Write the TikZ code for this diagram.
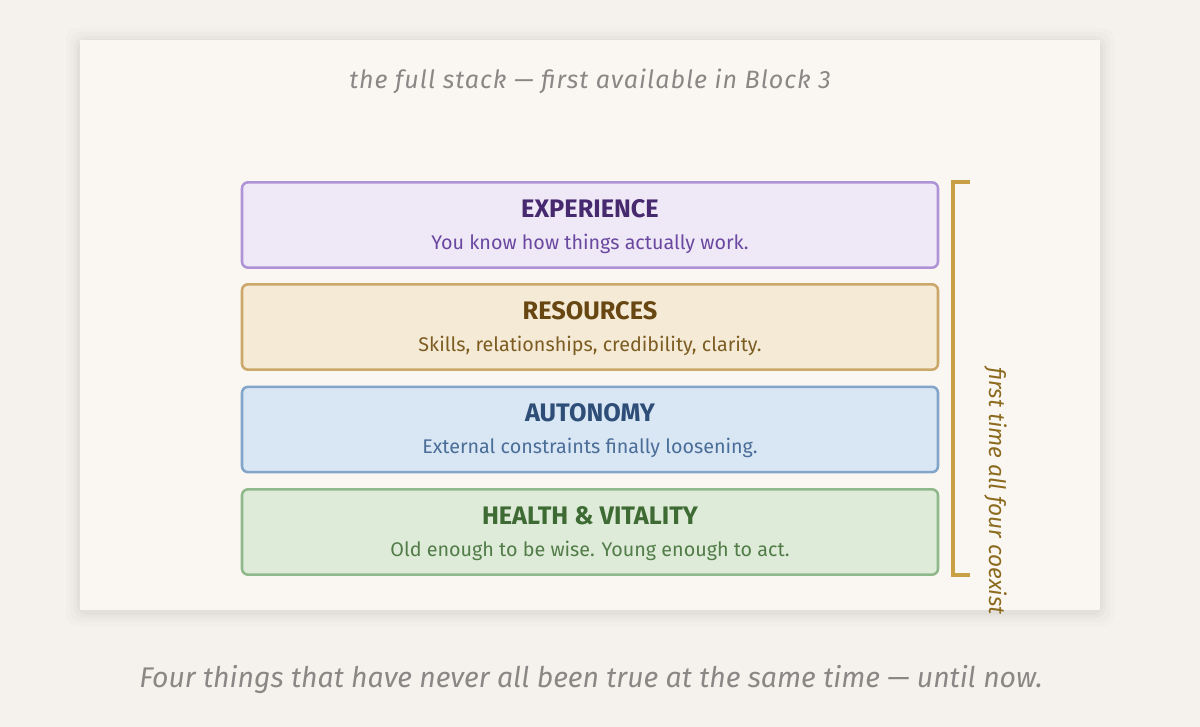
\documentclass[tikz,border=0pt]{standalone}
\usepackage{fontspec}
\setmainfont{Fira Sans}
\usepackage{xcolor}
\usetikzlibrary{positioning,calc}

\definecolor{pagebg}{HTML}{F5F2ED}
\definecolor{panelbg}{HTML}{FAF7F3}
\definecolor{capgray}{HTML}{8A8886}
\definecolor{gold}{HTML}{C9A046}
\definecolor{goldtext}{HTML}{8C6A1E}
% layer colours
\definecolor{expfill}{HTML}{EFE8F7}\definecolor{expline}{HTML}{AE94D6}
\definecolor{exptitle}{HTML}{47296F}\definecolor{expsub}{HTML}{6A48A0}
\definecolor{resfill}{HTML}{F4EAD6}\definecolor{resline}{HTML}{CBA76A}
\definecolor{restitle}{HTML}{674612}\definecolor{ressub}{HTML}{7D5C22}
\definecolor{autfill}{HTML}{D9E6F4}\definecolor{autline}{HTML}{82A5C9}
\definecolor{auttitle}{HTML}{2E4E78}\definecolor{autsub}{HTML}{4A6E98}
\definecolor{heafill}{HTML}{DDEBD8}\definecolor{healine}{HTML}{90B98B}
\definecolor{heatitle}{HTML}{3E6A33}\definecolor{heasub}{HTML}{527C48}

\newfontfamily\spacedit[LetterSpace=4]{Fira Sans Italic}

\tikzset{
  layer/.style={draw=#1line, fill=#1fill, line width=1.9pt, rounded corners=4.5pt,
    minimum width=522pt, minimum height=64pt, inner sep=0pt},
  ltitle/.style={font=\bfseries\fontsize{19}{22}\selectfont, text=#1title, inner sep=0pt},
  lsub/.style={font=\fontsize{14.8}{18}\selectfont, text=#1sub, inner sep=0pt},
  caption/.style={font=\itshape, text=capgray, inner sep=0pt}
}

\begin{document}
\begin{tikzpicture}[x=0.75pt,y=-0.75pt]
    % page and panel
    \fill[pagebg] (0,0) rectangle (1200,727);
    \foreach \s/\o in {14/0.012,10/0.015,6/0.018,3/0.022}
        \fill[black,opacity=\o,rounded corners=8pt] (80-\s,40-\s+2) rectangle (1100+\s,610+\s+2);
    \fill[panelbg] (80,40) rectangle (1100,610);
    \useasboundingbox (0,0) rectangle (1200,727);

    % top caption
    \node[caption, font=\spacedit\fontsize{18.8}{22}\selectfont] (top) at (590,81)
        {the full stack — first available in Block 3};

    % Experience
    \node[layer=exp] (exp) at (590,225) {};
    \node[ltitle=exp] (expt) at (590,209) {EXPERIENCE};
    \node[lsub=exp] (exps) at (590,243.5) {You know how things actually work.};

    % Resources
    \node[layer=res] (res) at (590,327) {};
    \node[ltitle=res] (rest) at (590,311) {RESOURCES};
    \node[lsub=res] (ress) at (590,345.5) {Skills, relationships, credibility, clarity.};

    % Autonomy
    \node[layer=aut] (aut) at (590,429.5) {};
    \node[ltitle=aut] (autt) at (590,413) {AUTONOMY};
    \node[lsub=aut] (auts) at (590,447.5) {External constraints finally loosening.};

    % Health & Vitality
    \node[layer=hea] (hea) at (590,532) {};
    \node[ltitle=hea] (heat) at (590,516) {HEALTH \& VITALITY};
    \node[lsub=hea] (heas) at (590,550.5) {Old enough to be wise. Young enough to act.};

    % bracket
    \coordinate (brtop) at (970,182);
    \coordinate (brbot) at (970,575);
    \draw[gold, line width=2.3pt] (brtop) -- ++(-17,0) |- (brbot);
    \node[font=\itshape\fontsize{17}{20}\selectfont, text=goldtext, rotate=-90, inner sep=0pt]
        (coex) at (996,491) {first time all four coexist};

    % bottom caption
    \node[caption, font=\itshape\fontsize{21.3}{24}\selectfont] (bottom) at (591,679)
        {Four things that have never all been true at the same time — until now.};
\end{tikzpicture}
\end{document}
